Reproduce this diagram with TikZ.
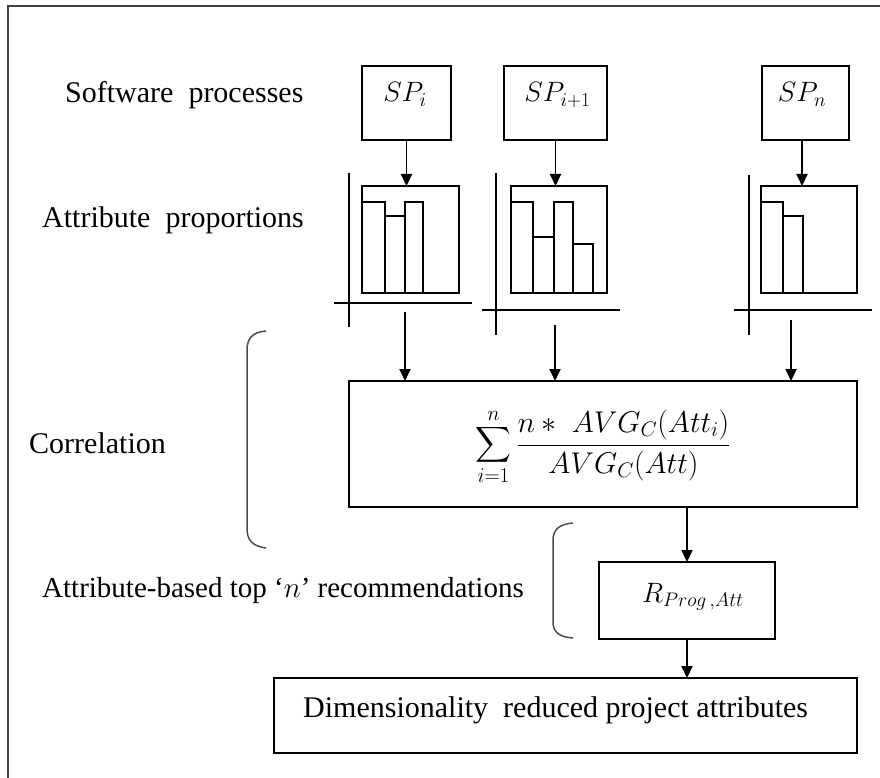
\RequirePackage{fix-cm}
\documentclass[tikz,border=0pt]{standalone}
\usepackage{amsmath}
\usepackage{exscale}
\usepackage[no-math]{fontspec}
\setmainfont{Liberation Serif}
\usetikzlibrary{arrows.meta}
\newcommand\lblfont{\fontsize{30}{36}\selectfont}
\newcommand\mfont{\fontsize{28}{34}\selectfont}
\newcommand\formulafont{\fontsize{30}{36}\selectfont}
\tikzset{
  box/.style={draw, line width=1.8pt, inner sep=0pt, outer sep=0pt},
  bar/.style={draw, line width=1.8pt},
  axis/.style={line width=1.8pt},
  arr/.style={line width=1.9pt, -{Triangle[length=12pt,width=11pt]}},
  lab/.style={anchor=base west, inner sep=0pt, font=\lblfont},
  mlab/.style={inner sep=0pt, font=\mfont},
  brace/.style={line width=1.5pt, draw=black!70},
  frame/.style={line width=1.6pt, draw=black!75},
}
\begin{document}
\begin{tikzpicture}[x=1pt, y=-1pt]
\useasboundingbox (0,0) rectangle (880,778);

% open frame (left and top edges)
\draw[frame] (8,778) -- (8,6) -- (880,6);

% row labels
\node[lab] (lsp)   at (65,103)  {Software\ \ processes};
\node[lab] (lattr) at (42,227)  {Attribute\ \ proportions};
\node[lab] (lcorr) at (29,453)  {Correlation};
\node[lab, font=\fontsize{29}{34}\selectfont] (lrec) at (42,597)
  {Attribute-based top ‘$n$’ recommendations};

% software process boxes
\node[box, minimum width=89pt,  minimum height=74pt] (spi) at (406.5,103) {};
\node[box, minimum width=103pt, minimum height=74pt] (spj) at (555.5,103) {};
\node[box, minimum width=87pt,  minimum height=74pt] (spn) at (805.5,103) {};
\node[mlab, anchor=base] (tspi) at (405,102)   {$SP_i$};
\node[mlab, anchor=base] (tspj) at (557.5,102) {$SP_{i+1}$};
\node[mlab, anchor=base] (tspn) at (802,102)   {$SP_n$};

% attribute proportion charts
\node[box, minimum width=97pt, minimum height=107pt] (ch1) at (410.5,239.5) {};
\node[box, minimum width=96pt, minimum height=107pt] (ch2) at (559,239.5) {};
\node[box, minimum width=96pt, minimum height=107pt] (ch3) at (809,239.5) {};

\draw[bar] (362,202) rectangle (385,293);
\draw[bar] (385,216) rectangle (405,293);
\draw[bar] (405,202) rectangle (423,293);

\draw[bar] (511,202) rectangle (533,293);
\draw[bar] (533,237) rectangle (554,293);
\draw[bar] (554,202) rectangle (573,293);
\draw[bar] (573,244) rectangle (593,293);

\draw[bar] (761,202) rectangle (783,293);
\draw[bar] (783,216) rectangle (803,293);

\draw[axis] (349,173) -- (349,327);
\draw[axis] (334,303) -- (472,303);
\draw[axis] (496,173) -- (496,335);
\draw[axis] (482,310) -- (620,310);
\draw[axis] (749,175) -- (749,335);
\draw[axis] (734,310) -- (872,310);

% correlation box
\node[box, minimum width=508pt, minimum height=126pt] (corr) at (603,444) {};
\node[inner sep=0pt, font=\formulafont] (formula) at (603,447)
  {$\displaystyle\sum_{i=1}^{n}\frac{n\ast\; AVG_C(Att_i)}{AVG_C(Att)}$};

% recommendation box
\node[box, minimum width=176pt, minimum height=77pt] (rbox) at (687,600.5) {};
\node[mlab, anchor=base west] (trbox) at (642,602) {$R_{Prog\,,Att}$};

% result box
\node[box, minimum width=583pt, minimum height=75pt] (dim) at (565.5,715.5) {};
\node[lab] (tdim) at (303,717) {Dimensionality\ \ reduced project attributes};

% connectors
\draw[arr] (spi.south) -- (spi.south |- ch1.north);
\draw[arr] (spj.south) -- (spj.south |- ch2.north);
\draw[arr] ([xshift=-3.5pt]spn.south) -- ([xshift=-3.5pt]spn.south |- ch3.north);

\coordinate (c1) at (405,312);
\coordinate (c2) at (555,325);
\coordinate (c3) at (791,320);
\draw[arr] (c1) -- (c1 |- corr.north);
\draw[arr] (c2) -- (c2 |- corr.north);
\draw[arr] (c3) -- (c3 |- corr.north);

\draw[arr] (corr.south -| rbox.north) -- (rbox.north);
\draw[arr] (rbox.south) -- (rbox.south |- dim.north);

% grouping brackets
\draw[brace] (266,331) .. controls (252,332) and (247,339) .. (247,350)
  -- (247,528) .. controls (247,540) and (252,546) .. (266,548);
\draw[brace] (573,523) .. controls (559,524) and (553,530) .. (553,540)
  -- (553,622) .. controls (553,632) and (559,637) .. (573,638);
\end{tikzpicture}
\end{document}
